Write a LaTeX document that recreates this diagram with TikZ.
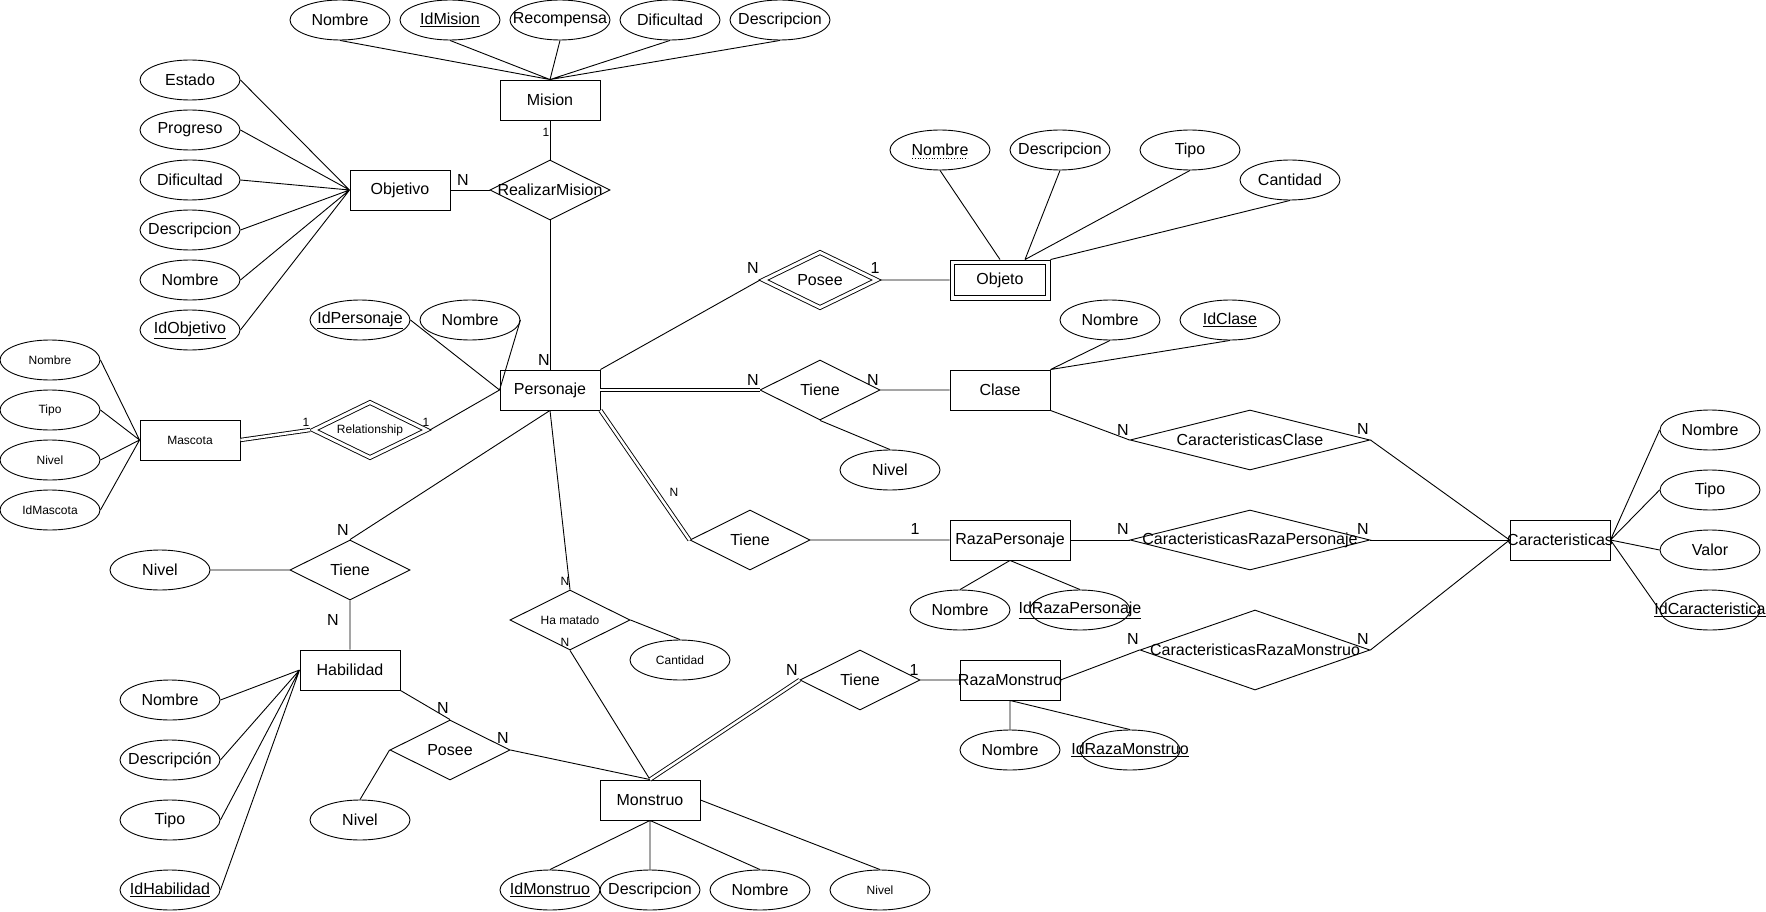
\documentclass[tikz,border=0pt]{standalone}
\usepackage{fontspec}
\setmainfont{Liberation Sans}
\usetikzlibrary{positioning,shapes.geometric}
\newcommand{\pk}[1]{\underline{#1}}

\begin{document}
\begin{tikzpicture}[x=1pt, y=-1pt, line width=0.9pt, on grid,
  font=\fontsize{16pt}{18pt}\selectfont,
  fixed/.style={draw, inner sep=0pt, execute at begin node={\hbox to 0pt\bgroup\hss}, execute at end node={\hss\egroup}},
  ent/.style={fixed, rectangle, minimum width=100pt, minimum height=40pt},
  rel/.style={fixed, diamond, minimum width=120pt, minimum height=60pt},
  wrel/.style={rel, double, double distance=3pt, minimum width=115pt, minimum height=57pt, outer sep=2.4pt},
  att/.style={fixed, ellipse, minimum width=100pt, minimum height=40pt},
  sm/.style={font=\fontsize{12pt}{14pt}\selectfont},
  crd/.style={inner sep=0pt},
  dbl/.style={double, double distance=2.5pt}]
\useasboundingbox (0,0) rectangle (1766,912);
% Mision, RealizarMision, Objetivo
\node[ent] (mis) at (550,100) {Mision};
\node[att] (misnom) at (340,20) {Nombre};
\node[att, right=110pt of misnom] (misid) {\pk{IdMision}};
\node[att, right=110pt of misid] (misrec) {Recompensa};
\node[att, right=110pt of misrec] (misdif) {Dificultad};
\node[att, right=110pt of misdif] (misdes) {Descripcion};
\node[rel] (rmi) at (550,190) {RealizarMision};
\node[ent] (obj) at (400,190) {Objetivo};
\node[att] (oest) at (190,80) {Estado};
\node[att, below=50pt of oest] (opro) {Progreso};
\node[att, below=50pt of opro] (odif) {Dificultad};
\node[att, below=50pt of odif] (odes) {Descripcion};
\node[att, below=50pt of odes] (onom) {Nombre};
\node[att, below=50pt of onom] (oid) {\pk{IdObjetivo}};
% Personaje
\node[ent] (per) at (550,390) {Personaje};
\node[att] (pid) at (360,320) {\pk{IdPersonaje}};
\node[att] (pnom) at (470,320) {Nombre};
% Objeto (debil)
\node[wrel] (pos) at (820,280) {Posee};
\node[ent] (obt) at (1000,280) {Objeto};
\draw ([shift={(5pt,-5pt)}]obt.north west) rectangle ([shift={(-5pt,5pt)}]obt.south east);
\node[att] (obnom) at (940,150) {Nombre};
\draw[dotted, line width=0.8pt] ([xshift=-28pt,yshift=-8pt]obnom.center) -- ([xshift=28pt,yshift=-8pt]obnom.center);
\node[att] (obdes) at (1060,150) {Descripcion};
\node[att] (obtip) at (1190,150) {Tipo};
\node[att] (obcan) at (1290,180) {Cantidad};
% Mascota
\node[ent, sm] (mas) at (190,440) {Mascota};
\node[att, sm] (masnom) at (50,360) {Nombre};
\node[att, sm, below=50pt of masnom] (mastip) {Tipo};
\node[att, sm, below=50pt of mastip] (masniv) {Nivel};
\node[att, sm, below=50pt of masniv] (masid) {IdMascota};
\node[wrel, sm] (rls) at (370,430) {Relationship};
% Clase
\node[rel] (tcl) at (820,390) {Tiene};
\node[att] (tcniv) at (890,470) {Nivel};
\node[ent] (cla) at (1000,390) {Clase};
\node[att] (clnom) at (1110,320) {Nombre};
\node[att] (clid) at (1230,320) {\pk{IdClase}};
\node[rel, minimum width=240pt] (ccl) at (1250,440) {CaracteristicasClase};
% RazaPersonaje
\node[rel] (trp) at (750,540) {Tiene};
\node[ent, minimum width=120pt] (rzp) at (1010,540) {RazaPersonaje};
\node[att] (rpnom) at (960,610) {Nombre};
\node[att] (rpid) at (1080,610) {\pk{IdRazaPersonaje}};
\node[rel, minimum width=240pt] (crp) at (1250,540) {CaracteristicasRazaPersonaje};
% Caracteristicas
\node[ent] (car) at (1560,540) {Caracteristicas};
\node[att] (canom) at (1710,430) {Nombre};
\node[att, below=60pt of canom] (catip) {Tipo};
\node[att, below=60pt of catip] (caval) {Valor};
\node[att, below=60pt of caval] (caid) {\pk{IdCaracteristica}};
% Habilidad
\node[rel] (thb) at (350,570) {Tiene};
\node[att] (thniv) at (160,570) {Nivel};
\node[ent] (hab) at (350,670) {Habilidad};
\node[att] (hnom) at (170,700) {Nombre};
\node[att] (hdes) at (170,760) {Descripción};
\node[att] (htip) at (170,820) {Tipo};
\node[att] (hid) at (170,890) {\pk{IdHabilidad}};
\node[rel] (phm) at (450,750) {Posee};
\node[att] (pniv) at (360,820) {Nivel};
% Monstruo y RazaMonstruo
\node[rel, sm] (ham) at (570,620) {Ha matado};
\node[att, sm] (hcan) at (680,660) {Cantidad};
\node[ent] (mon) at (650,800) {Monstruo};
\node[att] (monid) at (550,890) {\pk{IdMonstruo}};
\node[att] (mondes) at (650,890) {Descripcion};
\node[att] (monnom) at (760,890) {Nombre};
\node[att, sm] (monniv) at (880,890) {Nivel};
\node[rel] (trm) at (860,680) {Tiene};
\node[ent] (rzm) at (1010,680) {RazaMonstruo};
\node[att] (rmnom) at (1010,750) {Nombre};
\node[att] (rmid) at (1130,750) {\pk{IdRazaMonstruo}};
\node[rel, minimum width=230pt, minimum height=80pt] (crm) at (1255,650) {CaracteristicasRazaMonstruo};
% cardinalidades
\node[crd] (c1) at (463,180) {N};
\node[crd, sm] (c2) at (546,132) {1};
\node[crd] (c3) at (544,360) {N};
\node[crd] (c4) at (753,268) {N};
\node[crd] (c5) at (875,268) {1};
\node[crd, sm] (c6) at (306,422) {1};
\node[crd, sm] (c7) at (426,422) {1};
\node[crd] (c8) at (753,380) {N};
\node[crd] (c9) at (873,380) {N};
\node[crd, sm] (c10) at (674,492) {N};
\node[crd] (c11) at (915,529) {1};
\node[crd] (c12) at (343,530) {N};
\node[crd] (c13) at (333,620) {N};
\node[crd, sm] (c14) at (565,581) {N};
\node[crd, sm] (c15) at (565,642) {N};
\node[crd] (c16) at (443,708) {N};
\node[crd] (c17) at (503,738) {N};
\node[crd] (c18) at (792,670) {N};
\node[crd] (c19) at (914,670) {1};
\node[crd] (c20) at (1123,430) {N};
\node[crd] (c21) at (1363,429) {N};
\node[crd] (c22) at (1123,529) {N};
\node[crd] (c23) at (1363,529) {N};
\node[crd] (c24) at (1133,639) {N};
\node[crd] (c25) at (1363,639) {N};
% lineas
\draw (mis.north) -- (misnom.south) (mis.north) -- (misid.south) (mis.north) -- (misrec.south) (mis.north) -- (misdif.south) (mis.north) -- (misdes.south);
\draw (mis.south) -- (rmi.north) (rmi.west) -- (obj.east) (rmi.south) -- (per.north);
\draw (obj.west) -- (oest.east) (obj.west) -- (opro.east) (obj.west) -- (odif.east) (obj.west) -- (odes.east) (obj.west) -- (onom.east) (obj.west) -- (oid.east);
\draw (pid.east) -- (per.west) (pnom.east) -- (per.west);
\draw (per.north east) -- (pos.west) (pos.east) -- (obt.west);
\draw (obt.north) -- (obnom.south) ([xshift=25pt]obt.north) -- (obdes.south) ([xshift=25pt]obt.north) -- (obtip.south) (obt.north east) -- (obcan.south);
\draw[dbl] (mas.east) -- (rls.west);
\draw (rls.east) -- (per.west);
\draw (mas.west) -- (masnom.east) (mas.west) -- (mastip.east) (mas.west) -- (masniv.east) (mas.west) -- (masid.east);
\draw[dbl] (per.east) -- (tcl.west);
\draw (tcl.east) -- (cla.west) (tcl.south) -- (tcniv.north);
\draw (cla.north east) -- (clnom.south) (cla.north east) -- (clid.south);
\draw (cla.south east) -- (ccl.west) (ccl.east) -- (car.west);
\draw[dbl] (per.south east) -- (trp.west);
\draw (trp.east) -- (rzp.west) (rzp.south) -- (rpnom.north) (rzp.south) -- (rpid.north);
\draw (rzp.east) -- (crp.west) (crp.east) -- (car.west);
\draw (car.east) -- (canom.west) (car.east) -- (catip.west) (car.east) -- (caval.west) (car.east) -- (caid.west);
\draw (per.south) -- (thb.north) (thb.west) -- (thniv.east) (thb.south) -- (hab.north);
\draw (hab.west) -- (hnom.east) (hab.west) -- (hdes.east) (hab.west) -- (htip.east) (hab.west) -- (hid.east);
\draw (hab.south east) -- (phm.north) (phm.east) -- (mon.north) (phm.west) -- (pniv.north);
\draw (per.south) -- (ham.north) (ham.south) -- (mon.north) (ham.east) -- (hcan.north);
\draw[dbl] (mon.north) -- (trm.west);
\draw (trm.east) -- (rzm.west) (rzm.south) -- (rmnom.north) (rzm.south) -- (rmid.north);
\draw (rzm.east) -- (crm.west) (crm.east) -- (car.west);
\draw (mon.south) -- (monid.north) (mon.south) -- (mondes.north) (mon.south) -- (monnom.north) (mon.east) -- (monniv.north);
\end{tikzpicture}
\end{document}
